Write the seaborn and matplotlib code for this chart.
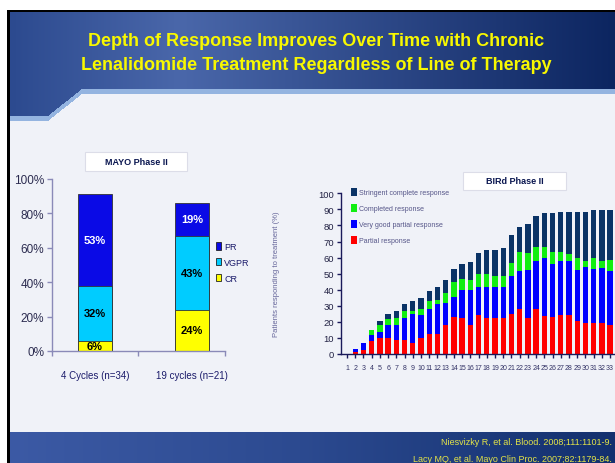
import numpy as np
import pandas as pd
import matplotlib
matplotlib.use('Agg')
import matplotlib.pyplot as plt
import seaborn as sns
from matplotlib.patches import Patch, Rectangle

# ------------------------------------------------------------
# data
# ------------------------------------------------------------
# MAYO Phase II (percent of patients)
mayo_groups = ['4 Cycles (n=34)', '19 cycles (n=21)']
mayo_cr = [6, 24]
mayo_vgpr = [32, 43]
mayo_pr = [53, 19]
mayo_yticks = [0, 20, 40, 60, 80, 100]

# BIRd Phase II, by cycle (segment heights, %)
cycles = [str(c) for c in range(1, 34)]
bird_pr = [0, 1.5, 2.7, 7.9, 10, 10, 8.9, 8.9, 6.8, 10, 12.4, 12.4, 18, 23, 22.4, 18,
           24.3, 22.4, 22.4, 22.4, 24.9, 28, 22.4, 28, 23.7, 23, 24.3, 24.3, 20.5,
           19.3, 19.3, 19.3, 18]
bird_vgpr = [0, 1.5, 4.1, 3.9, 3.9, 8, 9.1, 13.5, 18.1, 14.3, 15.4, 18.7, 13.7, 12.5,
             17.4, 21.8, 17.4, 19.3, 19.3, 19.3, 23.6, 23.7, 29.9, 29.9, 36.1, 33,
             33.6, 33.6, 31.8, 34.8, 33.6, 34.2, 33.7]
bird_cr = [0, 0, 0, 3.1, 4.1, 3.8, 4.4, 4.4, 1.9, 3.5, 5.2, 2.5, 6.3, 9.3, 6.9, 6.2,
           8.1, 8.1, 6.8, 6.8, 8.1, 11.8, 10.6, 8.7, 6.8, 7.5, 5.6, 4.3, 7.5, 3.8,
           6.9, 4.4, 6.8]
bird_scr = [0, 0, 0, 0, 2.5, 3.1, 4.4, 4.3, 6.2, 7.1, 6.2, 8.1, 8, 8.1, 9.3, 11.3,
            13.1, 14.9, 16.2, 17.5, 17.4, 15.5, 18, 19.3, 21.2, 24.3, 24.9, 26.2,
            28.6, 30.5, 29.8, 31.7, 31.1]
bird_labels = ['Stringent complete response', 'Completed response',
               'Very good partial response', 'Partial response']

title_lines = ['Depth of Response Improves Over Time with Chronic',
               'Lenalidomide Treatment Regardless of Line of Therapy']
citations = ['Niesvizky R, et al. Blood. 2008;111:1101-9.',
             'Lacy MQ, et al. Mayo Clin Proc. 2007;82:1179-84.']

# ------------------------------------------------------------
sns.set_theme(style='white')
plt.rcParams['font.family'] = ['Liberation Sans', 'DejaVu Sans']

W, H = 615, 464
fig = plt.figure(figsize=(W / 100, H / 100), dpi=100)

# slide background (title band, content area, footer band)
yy, xx = np.mgrid[0:H, 0:W] + 0.5

def grad(x, stops):
    xs = [s[0] for s in stops]
    cols = np.array([s[1] for s in stops]) / 255
    return np.stack([np.interp(x, xs, cols[:, i]) for i in range(3)], axis=-1)

img = np.ones((H, W, 3))
img[:] = np.array([240, 242, 248]) / 255
band_bottom = np.interp(xx, [48, 82], [117, 90])
band = (yy >= 12) & (yy < band_bottom)
stripe = (yy >= band_bottom) & (yy < band_bottom + 5)
top_cols = grad(xx, [(10, (44, 74, 143)), (180, (74, 103, 170)), (615, (12, 37, 96))])
img[band] = top_cols[band]
img[stripe] = np.array([148, 180, 224]) / 255
foot = yy >= 433
foot_cols = grad(xx, [(10, (60, 90, 165)), (300, (44, 74, 144)), (615, (19, 48, 110))])
img[foot] = foot_cols[foot]
img[(yy < 11) | (xx < 7)] = 1.0
img[((yy >= 11) & (yy < 13) & (xx >= 7)) | ((xx >= 7) & (xx < 10) & (yy >= 11))] = 0.0

bg = fig.add_axes([0, 0, 1, 1])
bg.imshow(img, extent=(0, W, H, 0), aspect='auto', interpolation='bilinear')
bg.set_xlim(0, W)
bg.set_ylim(H, 0)
bg.axis('off')

for i, line in enumerate(title_lines):
    bg.text(316, 42 + i * 23, line, ha='center', va='center', fontsize=13,
            fontweight='bold', color='#f8f800')
for i, line in enumerate(citations):
    bg.text(612, 443 + i * 17, line, ha='right', va='center', fontsize=6.5,
            color='#e4e448')

# chart title boxes
bg.add_patch(Rectangle((85, 153), 102, 19, facecolor='white', edgecolor='#dcdde8', lw=0.8))
bg.text(136, 162.5, 'MAYO Phase II', ha='center', va='center', fontsize=6.5,
        fontweight='bold', color='#0a1650')
bg.add_patch(Rectangle((463, 173), 103, 18, facecolor='white', edgecolor='#dcdde8', lw=0.8))
bg.text(514.5, 182, 'BIRd Phase II', ha='center', va='center', fontsize=6.5,
        fontweight='bold', color='#0a1650')

# ------------------------------------------------------------
# MAYO stacked bars
# ------------------------------------------------------------
c_pr, c_vgpr, c_cr = '#0a0ae6', '#00ccff', '#ffff00'
df_mayo = pd.DataFrame({'group': mayo_groups, 'CR': mayo_cr,
                        'VGPR': mayo_vgpr, 'PR': mayo_pr})
df_mayo['top_vgpr'] = df_mayo['CR'] + df_mayo['VGPR']
df_mayo['top_pr'] = df_mayo['top_vgpr'] + df_mayo['PR']

ax1 = fig.add_axes([52 / W, 1 - 352 / H, (225 - 52) / W, (352 - 180) / H])
ax1.patch.set_alpha(0)
for col, c in [('top_pr', c_pr), ('top_vgpr', c_vgpr), ('CR', c_cr)]:
    sns.barplot(data=df_mayo, x='group', y=col, color=c, saturation=1, width=0.36,
                edgecolor='#333333', linewidth=0.6, errorbar=None, ax=ax1)

for i in range(len(mayo_groups)):
    cr, vg, pr = mayo_cr[i], mayo_vgpr[i], mayo_pr[i]
    ax1.text(i, cr / 2, f'{cr}%', ha='center', va='center', fontsize=8,
             fontweight='bold', color='black')
    ax1.text(i, cr + vg / 2, f'{vg}%', ha='center', va='center', fontsize=8,
             fontweight='bold', color='black')
    ax1.text(i, cr + vg + pr / 2, f'{pr}%', ha='center', va='center', fontsize=8,
             fontweight='bold', color='white')

spine_c = '#8a8ab8'
ax1.set_xlim(-0.443, 1.34)
ax1.set_ylim(0, 100)
ax1.set_yticks(mayo_yticks)
ax1.set_yticklabels([f'{v}%' for v in mayo_yticks])
ax1.set_xticks([-0.443, 0.443, 1.34], minor=True)
ax1.set_xlabel('')
ax1.set_ylabel('')
sns.despine(ax=ax1)
for s in ['left', 'bottom']:
    ax1.spines[s].set_color(spine_c)
    ax1.spines[s].set_linewidth(1)
ax1.tick_params(axis='y', which='major', direction='out', length=3.5, width=1,
                color=spine_c, labelsize=8.5, labelcolor='#2c2c50', pad=2, left=True)
ax1.tick_params(axis='x', which='major', length=0, pad=14, labelsize=7,
                labelcolor='#1a1a6a')
ax1.tick_params(axis='x', which='minor', direction='out', length=3.5, width=1,
                color=spine_c, bottom=True)

mayo_handles = [Patch(facecolor=c, edgecolor='#222222', lw=0.6) for c in (c_pr, c_vgpr, c_cr)]
ax1.legend(mayo_handles, ['PR', 'VGPR', 'CR'], loc='upper left',
           bbox_to_anchor=(216 / W, 1 - 243 / H), bbox_transform=fig.transFigure,
           frameon=False, fontsize=6.5, handlelength=0.6, handleheight=0.9,
           handletextpad=0.3, labelspacing=0.75, borderpad=0, borderaxespad=0,
           labelcolor='#1a1a6a')

# ------------------------------------------------------------
# BIRd stacked bars
# ------------------------------------------------------------
c_scr, c_bcr, c_bvg, c_bpr = '#0a3366', '#11ee11', '#0000ff', '#ff0000'
df_bird = pd.DataFrame({'cycle': cycles, 'PR': bird_pr, 'VGPR': bird_vgpr,
                        'CR': bird_cr, 'sCR': bird_scr})
df_bird['t_vgpr'] = df_bird['PR'] + df_bird['VGPR']
df_bird['t_cr'] = df_bird['t_vgpr'] + df_bird['CR']
df_bird['t_scr'] = df_bird['t_cr'] + df_bird['sCR']

ax2 = fig.add_axes([341 / W, 1 - 355 / H, (W - 341) / W, (355 - 194.3) / H])
ax2.patch.set_alpha(0)
for col, c in [('t_scr', c_scr), ('t_cr', c_bcr), ('t_vgpr', c_bvg), ('PR', c_bpr)]:
    sns.barplot(data=df_bird, x='cycle', y=col, color=c, saturation=1, width=0.65,
                linewidth=0, errorbar=None, ax=ax2)

ax2.set_xlim(-0.73, 32.6)
ax2.set_ylim(0, 100)
ax2.set_yticks(range(0, 101, 10))
ax2.set_xlabel('')
ax2.set_ylabel('Patients responding to treatment (%)', fontsize=5.5, color='#66669a')
ax2.yaxis.set_label_coords(-0.222, 0.5)
sns.despine(ax=ax2)
for s in ['left', 'bottom']:
    ax2.spines[s].set_color('#1a1a5a')
    ax2.spines[s].set_linewidth(1)
ax2.tick_params(axis='y', direction='out', length=3, width=1, color='#1a1a5a',
                labelsize=6.8, labelcolor='#222244', pad=2, left=True)
ax2.tick_params(axis='x', direction='out', length=3, width=1, color='#1a1a5a',
                labelsize=5, labelcolor='#333366', pad=4.5, bottom=True)

bird_handles = [Patch(facecolor=c, edgecolor='none') for c in (c_scr, c_bcr, c_bvg, c_bpr)]
ax2.legend(bird_handles, bird_labels, loc='upper left',
           bbox_to_anchor=(351 / W, 1 - 189 / H), bbox_transform=fig.transFigure,
           frameon=False, fontsize=5, handlelength=0.8, handleheight=1.3,
           handletextpad=0.4, labelspacing=1.15, borderpad=0, borderaxespad=0,
           labelcolor='#555588')

fig.savefig('out.png', dpi=100)
